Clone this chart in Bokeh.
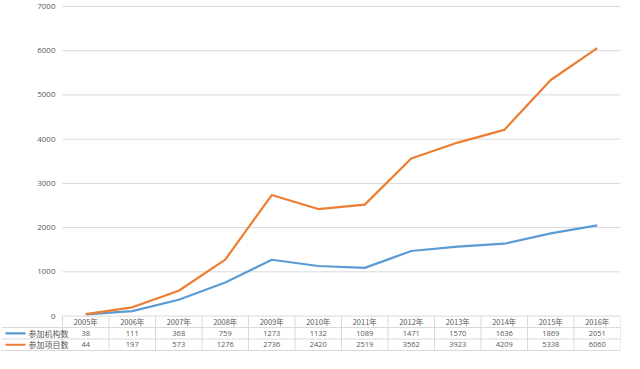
from bokeh.plotting import figure
from bokeh.models import Range1d
from bokeh.core.properties import value
from bokeh.embed import file_html
from bokeh.resources import INLINE

years = ["2005年", "2006年", "2007年", "2008年", "2009年", "2010年",
         "2011年", "2012年", "2013年", "2014年", "2015年", "2016年"]
institutions = [38, 111, 368, 759, 1273, 1132, 1089, 1471, 1570, 1636, 1869, 2051]
projects = [44, 197, 573, 1276, 2736, 2420, 2519, 3562, 3923, 4209, 5338, 6060]
series_names = ["参加机构数", "参加项目数"]
series_colors = ["#5b9bd5", "#ed7d31"]
y_ticks = [0, 1000, 2000, 3000, 4000, 5000, 6000, 7000]

W, H = 624, 353
LEFT_PX = 62          # room for axis labels / legend column
COL_PX = (W - 4 - LEFT_PX) / len(years)
X0 = -0.5 - LEFT_PX / COL_PX
X1 = len(years) - 0.5
UNITS_PER_PX = 7000 / 310.0
ROW = 11.5 * UNITS_PER_PX

p = figure(width=W, height=H, output_backend="svg", toolbar_location=None,
           x_range=Range1d(X0, X1),
           y_range=Range1d(-3 * ROW - 1 * UNITS_PER_PX, 7000 + 6 * UNITS_PER_PX),
           min_border_left=0, min_border_right=4, min_border_top=0, min_border_bottom=2)
p.axis.visible = False
p.grid.visible = False
p.outline_line_color = None
p.background_fill_color = "white"

font = value("Noto Sans CJK SC")
grey = "#595959"
gridc = "#d9d9d9"

xs = list(range(len(years)))

# horizontal grid lines
p.segment(x0=[-0.5] * len(y_ticks), x1=[X1] * len(y_ticks), y0=y_ticks, y1=y_ticks,
          line_color=gridc, line_width=1)
# y tick labels
p.text(x=[-0.5] * len(y_ticks), y=y_ticks, text=[str(t) for t in y_ticks],
       x_offset=-7, text_align="right", text_baseline="middle",
       text_font=value("Open Sans"), text_font_size="8px", text_color=grey)

# data lines
for vals, col in zip([institutions, projects], series_colors):
    p.line(xs, vals, line_color=col, line_width=2.2, line_join="round")

# table grid
row_bounds = [-ROW, -2 * ROW, -3 * ROW]
p.segment(x0=[X0 + 0.02] * 3, x1=[X1] * 3, y0=row_bounds, y1=row_bounds,
          line_color=gridc, line_width=1)
vx = [i - 0.5 for i in range(len(years) + 1)]
p.segment(x0=vx, x1=vx, y0=[0] * len(vx), y1=[-3 * ROW] * len(vx),
          line_color=gridc, line_width=1)

# table text
p.text(x=xs, y=[-0.5 * ROW] * len(xs), text=years, text_align="center",
       text_baseline="middle", text_font=font, text_font_size="7.5px", text_color=grey)
for r, vals in enumerate([institutions, projects]):
    p.text(x=xs, y=[-(r + 1.5) * ROW] * len(xs), text=[str(v) for v in vals],
           text_align="center", text_baseline="middle", text_font=value("Open Sans"),
           text_font_size="7.5px", text_color=grey)

# legend column
for r, (name, col) in enumerate(zip(series_names, series_colors)):
    yc = -(r + 1.5) * ROW
    p.line([X0 + 5 / COL_PX, X0 + 25 / COL_PX], [yc, yc], line_color=col, line_width=2.2)
    p.text(x=[X0 + 28 / COL_PX], y=[yc], text=[name], text_align="left",
           text_baseline="middle", text_font=font, text_font_size="8px", text_color=grey)

open("out.html", "w").write(file_html(p, INLINE))
